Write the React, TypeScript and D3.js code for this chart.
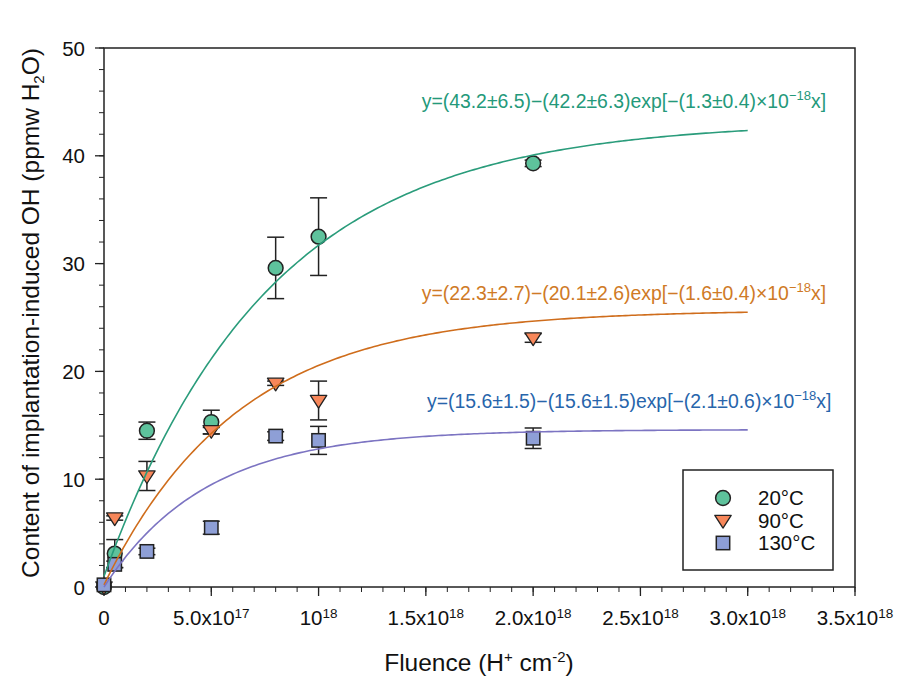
import * as d3 from 'd3'

const width = 900
const height = 686
const margin = { left: 104, right: 45, top: 48, bottom: 99 }

// fluence values (H+ cm-2) shared by all three temperatures
const fluence = [0, 5e16, 2e17, 5e17, 8e17, 1e18, 2e18]

const seriesNames = ['20°C', '90°C', '130°C']
const values20 = [0, 3.1, 14.5, 15.3, 29.6, 32.5, 39.3]
const errors20 = [0, 1.3, 0.8, 1.1, 2.85, 3.6, 0.3]
const values90 = [0, 6.4, 10.3, 14.5, 18.9, 17.3, 23.1]
const errors90 = [0, 0.2, 1.35, 0.3, 0.2, 1.8, 0.4]
const values130 = [0.2, 2.1, 3.3, 5.5, 14.0, 13.6, 13.8]
const errors130 = [0, 0.3, 0.3, 0.6, 0.4, 1.3, 0.95]

// fitted curves y = a - b * exp(-c * x / 1e18), as drawn
const fitA = [43.2, 25.7, 14.6]
const fitB = [42.2, 25.5, 14.6]
const fitC = [1.3, 1.6, 2.1]
const fitEnd = 3e18

const equations = [
  'y=(43.2±6.5)−(42.2±6.3)exp[−(1.3±0.4)×10',
  'y=(22.3±2.7)−(20.1±2.6)exp[−(1.6±0.4)×10',
  'y=(15.6±1.5)−(15.6±1.5)exp[−(2.1±0.6)×10',
]
const equationAnchor = [
  { x: 3.365e18, y: 44.4 },
  { x: 3.365e18, y: 26.6 },
  { x: 3.39e18, y: 16.6 },
]

const markerFill = ['#5ec29c', '#f7875a', '#8e9fd6']
const curveColor = ['#2a9c7b', '#cf6d1c', '#7c74c2']
const textColor = ['#24997a', '#cf7a26', '#2765ab']

const xTicks = [0, 5e17, 1e18, 1.5e18, 2e18, 2.5e18, 3e18, 3.5e18]
const xTickMantissa = ['0', '5.0x10', '10', '1.5x10', '2.0x10', '2.5x10', '3.0x10', '3.5x10']
const xTickExp = ['', '17', '18', '18', '18', '18', '18', '18']
const yTicks = [0, 10, 20, 30, 40, 50]

const font = '"Liberation Sans", Arial, sans-serif'

function Marker({ kind, x, y, fill }: { kind: number; x: number; y: number; fill: string }) {
  if (kind === 0) {
    return <circle cx={x} cy={y} r={7.4} fill={fill} stroke="#222" strokeWidth={1.5} />
  }
  if (kind === 1) {
    const s = 8.2
    return (
      <path
        d={`M${x - s},${y - s * 0.62}L${x + s},${y - s * 0.62}L${x},${y + s * 0.92}Z`}
        fill={fill}
        stroke="#222"
        strokeWidth={1.3}
        strokeLinejoin="round"
      />
    )
  }
  return <rect x={x - 6.7} y={y - 6.7} width={13.4} height={13.4} fill={fill} stroke="#222" strokeWidth={1.5} />
}

export default function App() {
  const x = d3.scaleLinear().domain([0, 3.5e18]).range([margin.left, width - margin.right])
  const y = d3.scaleLinear().domain([0, 50]).range([height - margin.bottom, margin.top])

  const allValues = [values20, values90, values130]
  const allErrors = [errors20, errors90, errors130]

  const line = d3
    .line<[number, number]>()
    .x((d) => x(d[0]))
    .y((d) => y(d[1]))

  const xs = d3.range(0, 201).map((i) => (fitEnd * i) / 200)
  const curves = fitA.map((a, i) => xs.map((v) => [v, a - fitB[i] * Math.exp((-fitC[i] * v) / 1e18)] as [number, number]))

  const xMinor = d3.range(0, 36).map((i) => i * 1e17)
  const yMinor = d3.range(0, 26).map((i) => i * 2)

  const x0 = x.range()[0]
  const x1 = x.range()[1]
  const y0 = y.range()[0]
  const y1 = y.range()[1]

  return (
    <div style={{ position: 'absolute', left: 0, top: 0 }}>
      <svg width={width} height={height} style={{ display: 'block', background: '#fff' }} fontFamily={font}>
        {/* minor ticks */}
        {xMinor.map((t) => (
          <line key={`xm${t}`} x1={x(t)} x2={x(t)} y1={y0} y2={y0 + 5} stroke="#222" strokeWidth={1} />
        ))}
        {yMinor.map((t) => (
          <line key={`ym${t}`} x1={x0} x2={x0 - 5} y1={y(t)} y2={y(t)} stroke="#222" strokeWidth={1} />
        ))}
        {xTicks.map((t) => (
          <line key={`xt${t}`} x1={x(t)} x2={x(t)} y1={y0} y2={y0 + 9} stroke="#222" strokeWidth={1.3} />
        ))}
        {yTicks.map((t) => (
          <line key={`yt${t}`} x1={x0} x2={x0 - 9} y1={y(t)} y2={y(t)} stroke="#222" strokeWidth={1.3} />
        ))}
        <rect x={x0} y={y1} width={x1 - x0} height={y0 - y1} fill="none" stroke="#222" strokeWidth={1.5} />

        {/* tick labels */}
        {yTicks.map((t) => (
          <text key={`yl${t}`} x={x0 - 19} y={y(t) + 7.5} textAnchor="end" fontSize={20.5} fill="#111">
            {t}
          </text>
        ))}
        {xTicks.map((t, i) => (
          <text key={`xl${t}`} x={x(t)} y={625} textAnchor="middle" fontSize={20.5} fill="#111">
            {xTickMantissa[i]}
            {xTickExp[i] && (
              <tspan fontSize={13.5} dy={-7}>
                {xTickExp[i]}
              </tspan>
            )}
          </text>
        ))}

        {/* axis titles */}
        <text x={479} y={671} textAnchor="middle" fontSize={24.5} fill="#111">
          Fluence (H
          <tspan fontSize={15} dy={-9}>+</tspan>
          <tspan dy={9}> cm</tspan>
          <tspan fontSize={15} dy={-9}>-2</tspan>
          <tspan dy={9}>)</tspan>
        </text>
        <text transform="translate(39,313) rotate(-90)" textAnchor="middle" fontSize={24.5} fill="#111">
          Content of implantation-induced OH (ppmw H
          <tspan fontSize={15} dy={5}>2</tspan>
          <tspan dy={-5}>O)</tspan>
        </text>

        {/* error bars */}
        {allValues.map((vals, si) =>
          vals.map((v, i) => {
            const e = allErrors[si][i]
            if (e <= 0) return null
            const cx = x(fluence[i])
            return (
              <g key={`e${si}-${i}`} stroke="#222" strokeWidth={1.5}>
                <line x1={cx} x2={cx} y1={y(v + e)} y2={y(v - e)} />
                <line x1={cx - 8.5} x2={cx + 8.5} y1={y(v + e)} y2={y(v + e)} />
                <line x1={cx - 8.5} x2={cx + 8.5} y1={y(v - e)} y2={y(v - e)} />
              </g>
            )
          }),
        )}

        {/* markers */}
        {allValues.map((vals, si) =>
          vals.map((v, i) => (
            <Marker key={`m${si}-${i}`} kind={si} x={x(fluence[i])} y={y(v)} fill={markerFill[si]} />
          )),
        )}

        {/* fitted curves */}
        {curves.map((c, i) => (
          <path key={`c${i}`} d={line(c) ?? ''} fill="none" stroke={curveColor[i]} strokeWidth={1.6} />
        ))}

        {/* equations */}
        {equations.map((eq, i) => (
          <text
            key={`eq${i}`}
            x={x(equationAnchor[i].x)}
            y={y(equationAnchor[i].y)}
            textAnchor="end"
            fontSize={19.4}
            fill={textColor[i]}
          >
            {eq}
            <tspan fontSize={13} dy={-8}>−18</tspan>
            <tspan dy={8}>x]</tspan>
          </text>
        ))}

        {/* legend */}
        <rect x={683} y={470} width={150} height={100} fill="#fff" stroke="#222" strokeWidth={1.5} />
        {seriesNames.map((name, i) => (
          <g key={`lg${i}`}>
            <Marker kind={i} x={723} y={498 + i * 22.5} fill={markerFill[i]} />
            <text x={758} y={505 + i * 22.5} fontSize={20.5} fill="#111">
              {name}
            </text>
          </g>
        ))}
      </svg>
    </div>
  )
}
